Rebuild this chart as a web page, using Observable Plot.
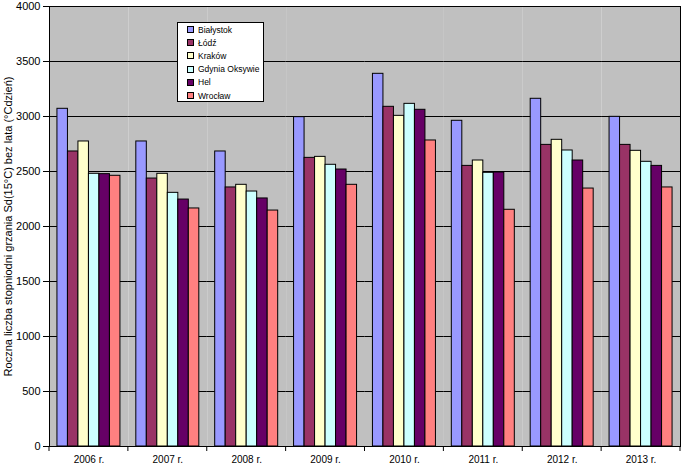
<!DOCTYPE html>
<html>
<head>
<meta charset="utf-8">
<script src="https://cdn.jsdelivr.net/npm/d3@7"></script>
<script src="https://cdn.jsdelivr.net/npm/@observablehq/plot@0.6"></script>
<style>
  body { margin: 0; background: #fff; }
  #wrap { position: relative; width: 684px; height: 470px; font-family: "Liberation Sans", Arial, sans-serif; }
  #legend { position: absolute; left: 177px; top: 22px; width: 87px; height: 80px; background: #fff; border: 1px solid #000; box-sizing: border-box; padding-top: 0px; }
  .li { height: 13.2px; display: flex; align-items: center; font-size: 8.5px; padding-left: 9px; color: #000; }
  .sw { width: 5px; height: 5px; border: 1px solid #000; margin-right: 4px; }
</style>
</head>
<body>
<div id="wrap"></div>
<script>
const years = ["2006 r.", "2007 r.", "2008 r.", "2009 r.", "2010 r.", "2011 r.", "2012 r.", "2013 r."];
const cities = ["Białystok", "Łódź", "Kraków", "Gdynia Oksywie", "Hel", "Wrocław"];
const colors = ["#9999FF", "#993366", "#FFFFCC", "#CCFFFF", "#660066", "#FF8080"];
const bialystok = [3070, 2773, 2682, 2994, 3388, 2961, 3161, 2997];
const lodz      = [2682, 2436, 2355, 2624, 3088, 2551, 2742, 2742];
const krakow    = [2773, 2479, 2379, 2633, 3006, 2600, 2788, 2688];
const gdynia    = [2479, 2306, 2318, 2561, 3115, 2488, 2691, 2588];
const hel       = [2476, 2245, 2255, 2518, 3061, 2491, 2600, 2551];
const wroclaw   = [2461, 2164, 2145, 2379, 2782, 2152, 2345, 2355];
const yTicks = [0, 500, 1000, 1500, 2000, 2500, 3000, 3500, 4000];
const yTitle = "Roczna liczba stopniodni grzania Sd(15°C) bez lata (°Cdzień)";

const series = [bialystok, lodz, krakow, gdynia, hel, wroclaw];
const data = [];
years.forEach((yr, i) => cities.forEach((c, j) => data.push({year: yr, city: c, value: series[j][i]})));

const W = 684, H = 470, mL = 49, mR = 4, mT = 6, mB = 24;

const plot = Plot.plot({
  width: W, height: H,
  marginLeft: mL, marginRight: mR, marginTop: mT, marginBottom: mB,
  style: {fontFamily: "'Liberation Sans', Arial, sans-serif", fontSize: "11px", background: "#fff", color: "#000"},
  fx: {domain: years, padding: 0, round: false, label: null},
  x: {domain: cities, paddingInner: 0, paddingOuter: 0.756, round: false, axis: null},
  y: {domain: [0, 4000], label: null},
  color: {domain: cities, range: colors},
  marks: [
    Plot.frame({fill: "#c0c0c0"}),
    Plot.gridY(yTicks, {stroke: "#000", strokeOpacity: 1, strokeWidth: 1}),
    Plot.barY(data, {fx: "year", x: "city", y: "value", fill: "city", stroke: "#000", strokeWidth: 1, inset: 0}),
    Plot.axisY(yTicks, {tickSize: 6, tickPadding: 3, fontSize: 11, label: yTitle, labelArrow: "none", labelAnchor: "center", labelOffset: 45, tickFormat: d => String(d)}),
    Plot.axisFx({anchor: "bottom", tickSize: 0, tickPadding: 9, fontSize: 10, label: null})
  ]
});

// outer border and boundary ticks from Plot's own scales
const fxs = plot.scale("fx");
const ys = plot.scale("y");
const band = d3.scaleBand().domain(fxs.domain).range(fxs.range).paddingInner(0).paddingOuter(0);
const y0 = ys.apply(0), y1 = ys.apply(4000);
const svg = d3.select(plot);
const x0 = fxs.range[0], x1 = fxs.range[1];
svg.append("rect").attr("x", x0).attr("y", y1).attr("width", x1 - x0).attr("height", y0 - y1)
  .attr("fill", "none").attr("stroke", "#000").attr("stroke-width", 1).attr("shape-rendering", "crispEdges");
const bounds = years.map(y => band(y)).concat([band(years[years.length - 1]) + band.bandwidth()]);
svg.append("g").selectAll("line").data(bounds).join("line")
  .attr("x1", d => d).attr("x2", d => d).attr("y1", y0).attr("y2", y0 + 5)
  .attr("stroke", "#000");

const wrap = document.getElementById("wrap");
wrap.appendChild(plot);

const lg = document.createElement("div");
lg.id = "legend";
cities.forEach((c, i) => {
  const row = document.createElement("div");
  row.className = "li";
  const sw = document.createElement("span");
  sw.className = "sw";
  sw.style.background = colors[i];
  row.appendChild(sw);
  row.appendChild(document.createTextNode(c));
  lg.appendChild(row);
});
wrap.appendChild(lg);
</script>
</body>
</html>
